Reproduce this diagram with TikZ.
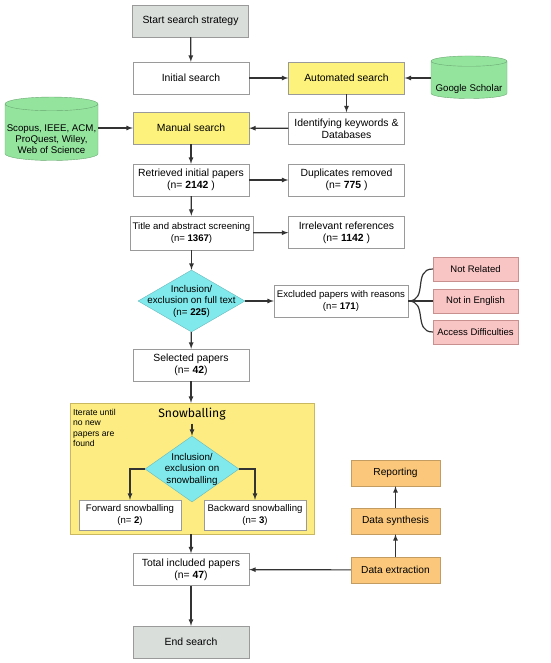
\documentclass[tikz,border=0pt]{standalone}
\usepackage{fontspec}
\setmainfont{Liberation Sans}
\newfontfamily\snowfont{Fira Sans}
\usetikzlibrary{shapes.geometric,positioning,arrows}

\definecolor{boxline}{HTML}{9A9A9A}
\definecolor{arrowgray}{HTML}{333333}
\definecolor{startgray}{HTML}{D9DEDB}
\definecolor{searchyellow}{HTML}{FCF27C}
\definecolor{snowyellow}{HTML}{FCEC82}
\definecolor{snowline}{HTML}{C9B860}
\definecolor{diacyan}{HTML}{80E9EC}
\definecolor{diacline}{HTML}{6AB8BA}
\definecolor{dbgreen}{HTML}{94E49E}
\definecolor{dbline}{HTML}{6AA872}
\definecolor{reasonpink}{HTML}{F8C4C4}
\definecolor{reasonline}{HTML}{C99090}
\definecolor{dataorange}{HTML}{FBC87B}
\definecolor{dataline}{HTML}{C39C62}

\tikzset{
	box/.style={draw=boxline, fill=white, minimum width=116pt, minimum height=32pt,
		align=center, inner sep=2pt, font=\fontsize{10.4}{12}\selectfont},
	smallbox/.style={box, font=\fontsize{9.6}{11.5}\selectfont},
	greybox/.style={box, fill=startgray},
	yellowbox/.style={box, fill=searchyellow},
	reason/.style={draw=reasonline, fill=reasonpink, minimum width=85pt, minimum height=24pt,
		inner sep=1pt, font=\fontsize{9.5}{11}\selectfont},
	datastep/.style={draw=dataline, fill=dataorange, minimum width=89pt, minimum height=26pt,
		inner sep=1pt, font=\fontsize{10.2}{12}\selectfont},
	decide/.style={diamond, draw=diacline, fill=diacyan, inner sep=0pt},
	dialabel/.style={align=center, font=\fontsize{9.8}{11.5}\selectfont},
	db/.style={cylinder, shape border rotate=90, aspect=0.15, draw=dbline, fill=dbgreen,
		align=center, inner sep=1pt, font=\fontsize{9.7}{11}\selectfont},
	flow/.style={->, >=latex, line width=1.2pt, draw=arrowgray},
	brace/.style={line width=1.2pt, draw=arrowgray},
}

\begin{document}
\begin{tikzpicture}[x=1pt,y=-1pt]
	\useasboundingbox (0,0) rectangle (550,663);
	%SNOWBALLING AREA (behind its own nodes)
	\node[draw=snowline, fill=snowyellow, minimum width=244pt, minimum height=131pt, inner sep=0pt] (snow) at (192,468.5) {};
	%MAIN COLUMN
	\node[greybox] (start) at (190.5,21) {Start search strategy};
	\node[box] (init) at (191,78) {Initial search};
	\node[yellowbox] (manual) at (191,128) {Manual search};
	\node[box] (retr) at (191,180) {Retrieved initial papers\\(n= \textbf{2142} )};
	\node[smallbox, minimum width=123pt, minimum height=34pt] (screen) at (191.5,233) {Title and abstract screening\\(n= \textbf{1367})};
	\node[decide, minimum width=107pt, minimum height=62pt,
		label={[dialabel]center:Inclusion/\\exclusion on full text\\(n= \textbf{225})}] (fulltext) at (191.5,301) {};
	\node[box] (selected) at (191,365) {Selected papers\\(n= \textbf{42})};
	\node[box] (total) at (191,569.5) {Total included papers\\(n= \textbf{47})};
	\node[greybox] (endsearch) at (191,642) {End search};
	%RIGHT COLUMN
	\node[yellowbox] (auto) at (346.5,78) {Automated search};
	\node[box] (ident) at (346.5,128.5) {Identifying keywords \&\\Databases};
	\node[box] (dup) at (346.5,180) {Duplicates removed\\(n= \textbf{775} )};
	\node[box] (irrel) at (346.5,232.5) {Irrelevant references\\(n= \textbf{1142} )};
	\node[smallbox, minimum width=134pt] (excl) at (341,301) {Excluded papers with reasons\\(n= \textbf{171})};
	%DATABASES (text pushed down below the top ellipse)
	\node[db, minimum width=76pt, minimum height=42pt, text height=24pt] (google) at (469,80.5) {Google Scholar};
	\node[db, minimum width=93pt, minimum height=62pt, text height=42pt] (dblist) at (51.5,133) {Scopus, IEEE, ACM,\\ProQuest, Wiley,\\Web of Science};
	%REASONS
	\node[reason] (notrel) at (475.5,269) {Not Related};
	\node[reason] (noteng) at (475.5,301) {Not in English};
	\node[reason] (access) at (475.5,332) {Access Difficulties};
	%SNOWBALLING
	\node[font=\snowfont\fontsize{12.2}{14}\selectfont] (snowtitle) at (192,414) {Snowballing};
	\node[anchor=north west, align=left, inner sep=0pt, font=\fontsize{8.6}{10.3}\selectfont] (iterate) at (73,409) {Iterate until\\no new\\papers are\\found};
	\node[decide, minimum width=94pt, minimum height=66pt,
		label={[dialabel]center:Inclusion/\\exclusion on\\snowballing}] (snowdia) at (192,469) {};
	\node[smallbox, minimum width=102pt, minimum height=30pt] (fwd) at (130,515) {Forward snowballing\\(n= \textbf{2})};
	\node[smallbox, minimum width=102pt, minimum height=30pt] (bwd) at (255,515) {Backward snowballing\\(n= \textbf{3})};
	%DATA STEPS
	\node[datastep] (report) at (395.5,473) {Reporting};
	\node[datastep] (synth) at (395.5,521) {Data synthesis};
	\node[datastep] (extract) at (395.5,570) {Data extraction};
	%PATHS
	\draw[flow] (start) -- (init);
	\draw[flow] (init) -- (auto);
	\draw[flow] (google.west |- auto) -- (auto);
	\draw[flow] (auto) -- (ident);
	\draw[flow] (ident) -- (manual);
	\draw[flow] (dblist.east |- manual) -- (manual);
	\draw[flow] (manual) -- (retr);
	\draw[flow] (retr) -- (dup);
	\draw[flow] (retr) -- (screen);
	\draw[flow] (screen) -- (irrel);
	\draw[flow] (screen) -- (fulltext);
	\draw[flow] (fulltext) -- (excl);
	\draw[flow] (fulltext) -- (selected);
	\draw[flow] (selected) -- (snow.north -| selected);
	\draw[flow] (snowtitle) -- (snowdia);
	\draw[flow] (snowdia.west) -| (fwd.north);
	\draw[flow] (snowdia.east) -| (bwd.north);
	\draw[flow] (snow.south -| total) -- (total);
	\draw[flow] (extract) -- (total);
	\draw[flow] (extract) -- (synth);
	\draw[flow] (synth) -- (report);
	\draw[flow] (total) -- (endsearch);
	%BRACE
	\draw[brace] (excl.east) to[out=0, in=180, looseness=1.3] (notrel.west);
	\draw[brace] (excl.east) -- (noteng.west);
	\draw[brace] (excl.east) to[out=0, in=180, looseness=1.3] (access.west);
\end{tikzpicture}
\end{document}
